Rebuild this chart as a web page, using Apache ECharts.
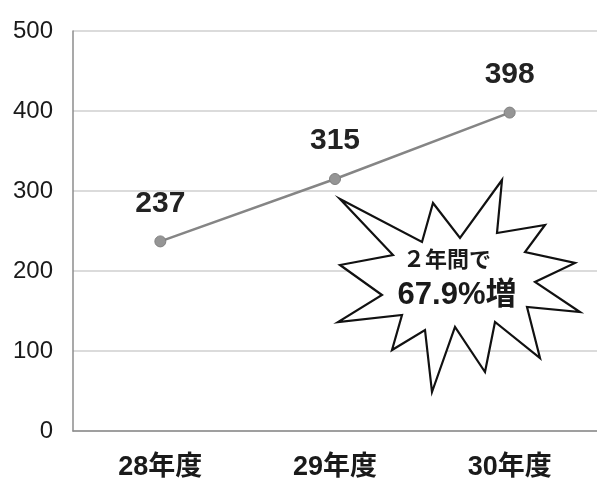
<!DOCTYPE html>
<html>
<head>
<meta charset="utf-8">
<script src="https://cdn.jsdelivr.net/npm/echarts@6/dist/echarts.min.js"></script>
<style>
html,body{margin:0;padding:0;background:#fff;}
#chart{width:597px;height:484px;}
</style>
</head>
<body>
<div id="chart"></div>
<script>
var categories = ['28年度', '29年度', '30年度'];
var values = [237, 315, 398];
var yTicks = [0, 100, 200, 300, 400, 500];
var calloutLines = ['２年間で', '67.9%増'];

var chart = echarts.init(document.getElementById('chart'), null, {renderer: 'canvas'});

var burst = [
  [340,199],[422,242],[433,203],[460,238],[502,180],[497,233],[545,225],[525,252],
  [575,263],[535,282],[580,312],[527,307],[540,358],[495,322],[485,372],[455,327],
  [432,392],[425,330],[392,350],[402,315],[338,322],[382,295],[340,265],[393,255]
];

var boldFont = '"Liberation Sans", Arial, "Noto Sans CJK JP", sans-serif';

chart.setOption({
  animation: false,
  backgroundColor: '#ffffff',
  grid: {left: 73, right: -4, top: 31, bottom: 53, containLabel: false},
  xAxis: {
    type: 'category',
    data: categories,
    boundaryGap: true,
    axisLine: {show: true, lineStyle: {color: '#8c8c8c', width: 1.5}},
    axisTick: {show: false},
    axisLabel: {
      margin: 23,
      fontSize: 27,
      fontWeight: 'bold',
      color: '#1a1a1a',
      fontFamily: boldFont
    },
    splitLine: {show: false}
  },
  yAxis: {
    type: 'value',
    min: yTicks[0],
    max: yTicks[yTicks.length - 1],
    interval: yTicks[1] - yTicks[0],
    axisLine: {show: true, lineStyle: {color: '#8c8c8c', width: 1.5}},
    axisTick: {show: false},
    axisLabel: {
      margin: 20,
      fontSize: 24,
      color: '#1a1a1a',
      fontFamily: '"Liberation Sans", Arial, sans-serif'
    },
    splitLine: {show: true, lineStyle: {color: '#cfcfcf', width: 1.5}}
  },
  series: [{
    type: 'line',
    data: values,
    symbol: 'circle',
    symbolSize: 11,
    itemStyle: {color: '#959595', borderColor: '#808080', borderWidth: 1},
    lineStyle: {color: '#858585', width: 2.5},
    label: {
      show: true,
      position: 'top',
      distance: 17,
      fontSize: 30,
      fontWeight: 'bold',
      color: '#222',
      fontFamily: boldFont
    },
    z: 3
  }],
  graphic: [
    {
      type: 'polygon',
      z: 100,
      shape: {points: burst},
      style: {fill: '#ffffff', stroke: '#111111', lineWidth: 2.2, lineJoin: 'miter'}
    },
    {
      type: 'text',
      z: 101,
      x: 447, y: 259,
      style: {
        text: calloutLines[0],
        fontSize: 22,
        fontWeight: 'bold',
        fill: '#1a1a1a',
        fontFamily: '"Noto Sans CJK JP", sans-serif',
        align: 'center',
        verticalAlign: 'middle'
      }
    },
    {
      type: 'text',
      z: 101,
      x: 457, y: 295,
      style: {
        text: calloutLines[1],
        fontSize: 31,
        fontWeight: 'bold',
        fill: '#1a1a1a',
        fontFamily: boldFont,
        align: 'center',
        verticalAlign: 'middle'
      }
    }
  ]
});
</script>
</body>
</html>
